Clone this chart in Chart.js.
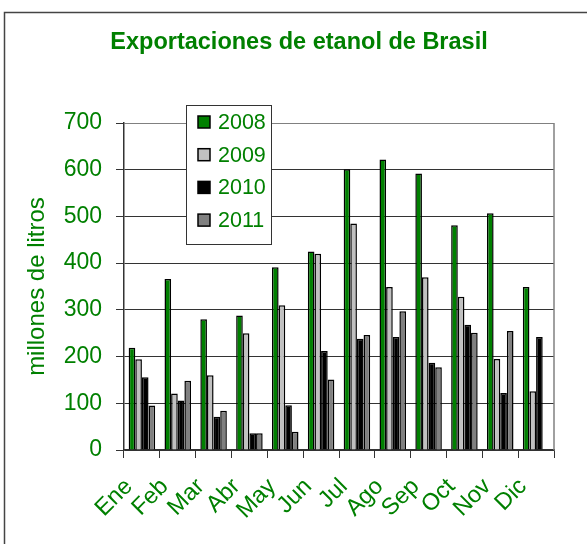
<!DOCTYPE html>
<html>
<head>
<meta charset="utf-8">
<script src="https://cdn.jsdelivr.net/npm/chart.js@4.4.1/dist/chart.umd.min.js"></script>
<style>
  html, body { margin: 0; padding: 0; background: #fff; }
  #wrap { width: 587px; height: 544px; position: relative; }
</style>
</head>
<body>
<div id="wrap"><canvas id="grafica" width="587" height="544"></canvas></div>
<script>
// datos (millones de litros)
const meses = ["Ene", "Feb", "Mar", "Abr", "May", "Jun", "Jul", "Ago", "Sep", "Oct", "Nov", "Dic"];
const anios = ["2008", "2009", "2010", "2011"];
const v2008 = [219, 366, 280, 288, 391, 425, 601, 622, 592, 481, 507, 349];
const v2009 = [194, 121, 160, 250, 310, 420, 485, 349, 370, 328, 195, 126];
const v2010 = [156, 106, 71, 36, 96, 212, 238, 242, 187, 268, 122, 242];
const v2011 = [95, 148, 84, 36, 39, 151, 246, 297, 177, 251, 255, null];
const colores = ["#008000", "#c0c0c0", "#000000", "#808080"];
const yTicks = [0, 100, 200, 300, 400, 500, 600, 700];

const verde = "#008000";
const fuente = "Arial, 'Liberation Sans', sans-serif";

// marco, titulo, borde del area y leyenda dibujados a mano
const marco = {
  id: "marco",
  beforeDraw(chart) {
    const ctx = chart.ctx;
    ctx.save();
    ctx.fillStyle = "#fff";
    ctx.fillRect(0, 0, chart.width, chart.height);
    ctx.strokeStyle = "#444";
    ctx.lineWidth = 1.5;
    ctx.strokeRect(4.5, 12.5, chart.width + 20, chart.height + 20);
    ctx.restore();
  },
  afterDatasetsDraw(chart) {
    const ctx = chart.ctx;
    const a = chart.chartArea;
    ctx.save();
    // borde derecho gris
    ctx.strokeStyle = "#808080";
    ctx.lineWidth = 1.5;
    ctx.beginPath();
    ctx.moveTo(a.right, a.top);
    ctx.lineTo(a.right, a.bottom);
    ctx.stroke();

    // titulo
    ctx.fillStyle = verde;
    ctx.font = "bold 23.5px " + fuente;
    ctx.textAlign = "center";
    ctx.textBaseline = "alphabetic";
    ctx.fillText("Exportaciones de etanol de Brasil", 299, 49);

    // leyenda
    const bx = 186, by = 105, bw = 85, bh = 139;
    ctx.fillStyle = "#fff";
    ctx.fillRect(bx, by, bw, bh);
    ctx.strokeStyle = "#333";
    ctx.lineWidth = 1;
    ctx.strokeRect(bx + 0.5, by + 0.5, bw, bh);
    ctx.font = "21.5px " + fuente;
    ctx.textAlign = "left";
    ctx.textBaseline = "middle";
    chart.data.datasets.forEach((ds, i) => {
      const cy = 122 + i * 32.7;
      ctx.fillStyle = ds.backgroundColor;
      ctx.fillRect(198, cy - 6, 12, 12);
      ctx.strokeStyle = "#000";
      ctx.lineWidth = 1.5;
      ctx.strokeRect(198, cy - 6, 12, 12);
      ctx.fillStyle = verde;
      ctx.fillText(ds.label, 218, cy + 1);
    });
    ctx.restore();
  }
};

const series = [v2008, v2009, v2010, v2011];

new Chart(document.getElementById("grafica"), {
  type: "bar",
  data: {
    labels: meses,
    datasets: series.map((d, i) => ({
      label: anios[i],
      data: d,
      backgroundColor: colores[i],
      borderColor: "#000",
      borderWidth: 1.5,
      barPercentage: 1,
      categoryPercentage: 0.74
    }))
  },
  options: {
    responsive: false,
    animation: false,
    layout: { padding: { top: 123, right: 33, left: 0, bottom: 0 } },
    plugins: {
      legend: { display: false },
      title: { display: false },
      tooltip: { enabled: false }
    },
    scales: {
      x: {
        afterFit(scale) { scale.height = 94; },
        grid: { display: true, drawOnChartArea: false, offset: true, tickLength: 8, color: "#333" },
        border: { color: "#333", width: 1.5 },
        ticks: {
          color: verde,
          font: { family: fuente, size: 23.5 },
          autoSkip: false,
          minRotation: 45,
          maxRotation: 45,
          padding: 15,
          labelOffset: -13
        }
      },
      y: {
        min: 0,
        max: 700,
        afterFit(scale) { scale.width = 124; },
        afterBuildTicks(scale) { scale.ticks = yTicks.map(v => ({ value: v })); },
        grid: {
          color: (c) => (c.tick && c.tick.value === 700 ? "#808080" : "#333"),
          lineWidth: 1,
          tickLength: 8,
          tickColor: "#333"
        },
        border: { color: "#333", width: 1.5 },
        ticks: {
          color: verde,
          font: { family: fuente, size: 23 },
          padding: 14
        },
        title: {
          display: true,
          text: "millones de litros",
          color: verde,
          font: { family: fuente, size: 24 },
          padding: { top: 23, bottom: 0 }
        }
      }
    }
  },
  plugins: [marco]
});
</script>
</body>
</html>
